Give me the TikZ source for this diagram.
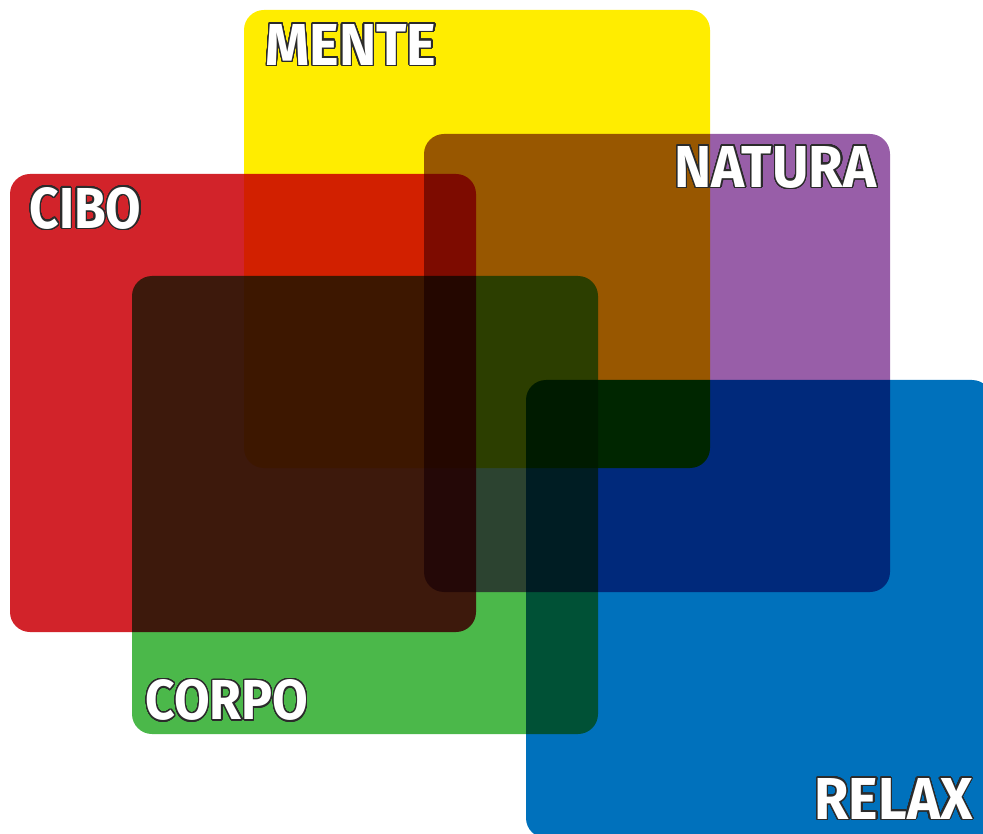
\documentclass[tikz,border=0pt]{standalone}
\usepackage{fontspec}
\setmainfont{Fira Sans}
\usepackage{graphicx}
\usepackage{contour}
\contourlength{1.4pt}
\contournumber{40}
\definecolor{cmente}{HTML}{FFED00}
\definecolor{ccibo}{HTML}{D2232A}
\definecolor{cnatura}{HTML}{985EA8}
\definecolor{ccorpo}{HTML}{4BB84A}
\definecolor{crelax}{HTML}{0071BC}
\definecolor{coutline}{HTML}{2B2B2B}
\newcommand{\lbltxt}[3]{\resizebox{#1pt}{#2pt}{\contour{coutline}{\textcolor{white}{\bfseries #3}}}}
\begin{document}
\begin{tikzpicture}[x=1pt,y=-1pt,
  sq/.style={draw=none,rounded corners=20pt,minimum width=466pt,minimum height=458pt,anchor=north west,inner sep=0pt,outer sep=0pt},
  lbl/.style={anchor=south west,inner sep=0pt,outer sep=0pt,font=\fontsize{60}{60}\selectfont}]
\useasboundingbox (0,0) rectangle (983,834);
\begin{scope}
\clip (0,0) rectangle (983,834);
\begin{scope}[blend group=multiply]
\node[sq,fill=cmente] (mente) at (244,10) {};
\node[sq,fill=cnatura] (natura) at (424,134) {};
\node[sq,fill=ccibo] (cibo) at (10,174) {};
\node[sq,fill=ccorpo] (corpo) at (132,276) {};
\node[sq,fill=crelax] (relax) at (526,380) {};
\end{scope}
\end{scope}
\node[lbl] (tmente) at (265.5,66.5) {\lbltxt{171}{41}{MENTE}};
\node[lbl] (tcibo) at (29.5,230.5) {\lbltxt{112}{41}{CIBO}};
\node[lbl] (tnatura) at (674.5,189.5) {\lbltxt{202}{41}{NATURA}};
\node[lbl] (tcorpo) at (145.5,722) {\lbltxt{163}{40}{CORPO}};
\node[lbl] (trelax) at (814.5,820.5) {\lbltxt{158}{41}{RELAX}};
\end{tikzpicture}
\end{document}
